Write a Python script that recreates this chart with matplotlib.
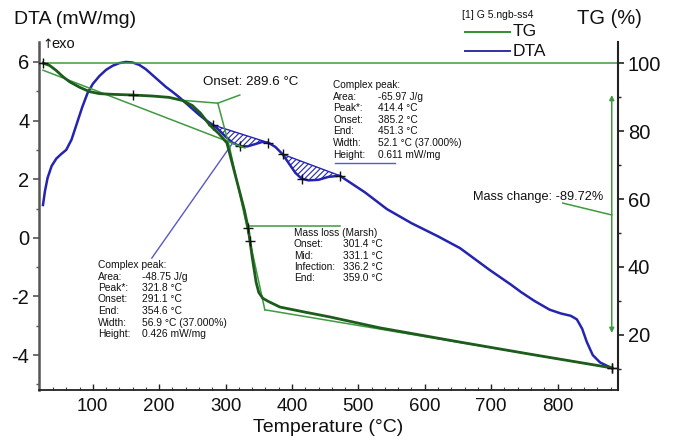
import numpy as np
import matplotlib
matplotlib.use("Agg")
import matplotlib.pyplot as plt
from matplotlib.lines import Line2D

plt.rcParams['font.family'] = ['Liberation Sans', 'DejaVu Sans']
plt.rcParams['hatch.linewidth'] = 0.8
plt.rcParams['axes.unicode_minus'] = False

# ---------------- data ----------------
dta_T = [25, 28, 32, 38, 45, 52, 60, 68, 76, 84, 92, 100, 110, 120, 130, 140, 150, 160,
         170, 180, 190, 200, 210, 220, 230, 240, 250, 260, 270, 281, 290, 300, 310, 321.8,
         333, 345, 355, 364, 375, 386, 395, 405, 414.4, 425, 440, 455, 472, 490, 510, 543,
         580, 620, 653, 698, 730, 745, 765, 788, 805, 820, 829, 837, 844, 853, 864, 874, 882]
dta_v = [1.12, 1.6, 2.05, 2.45, 2.7, 2.85, 3.0, 3.35, 3.9, 4.45, 4.93, 5.25, 5.52, 5.73, 5.87,
         5.96, 6.0, 5.98, 5.9, 5.75, 5.55, 5.35, 5.15, 4.98, 4.8, 4.6, 4.4, 4.2, 4.02, 3.85,
         3.68, 3.45, 3.25, 3.12, 3.12, 3.2, 3.27, 3.25, 3.1, 2.85, 2.55, 2.22, 2.02, 1.96,
         1.98, 2.08, 2.12, 1.85, 1.55, 0.98, 0.5, 0.05, -0.35, -1.1, -1.6, -1.85, -2.15,
         -2.45, -2.58, -2.66, -2.78, -3.1, -3.55, -4.0, -4.25, -4.36, -4.44]

tg_T = [25, 35, 45, 55, 65, 80, 95, 110, 130, 160, 190, 215, 235, 250, 262, 276, 290, 302,
        312, 320, 328, 334, 340, 346, 350, 356, 365, 382, 420, 457, 532, 653, 760, 882]
tg_p = [100, 99.3, 97.8, 96.0, 94.5, 92.9, 91.6, 91.0, 90.8, 90.6, 90.3, 89.9, 89.0, 87.5,
        85.3, 81.8, 79.2, 76.5, 69.0, 63.0, 57.0, 51.5, 43.0, 35.5, 32.5, 30.8, 29.8, 28.2,
        26.7, 25.3, 22.1, 17.9, 14.3, 10.3]

# peak integration limits (DTA) and baseline end values
peak1_T = [281, 364]
peak1_base = [3.85, 3.25]
peak2_T = [386, 472]
peak2_base = [2.85, 2.12]

# construction lines (TG axis, %)
tg_ref_T, tg_ref_p = [25, 889], [100, 100]
tg_base_T, tg_base_p = [25, 329], [97.9, 75.0]
onset_a_T, onset_a_p = [231, 288.3, 306.3], [89.1, 88.2, 75.0]
onset_b_T, onset_b_p = [288.3, 321.4], [88.2, 90.6]
steep_T, steep_p = [306.3, 359.1], [75.0, 27.4]
final_T, final_p = [359.1, 881.6], [27.4, 10.3]
massloss_lead_T, massloss_lead_p = [333.4, 472], [52.1, 52.1]
masschange_lead_T, masschange_lead_p = [807.8, 881.6], [58.8, 55.3]
arrow_T, arrow_p = 881.6, [90.6, 20.6]

# construction lines (DTA axis)
p1_lead_T, p1_lead_v = [188.9, 310.8], [-0.69, 3.24]
p2_lead_T, p2_lead_v = [464.5, 554.8], [2.55, 2.55]

# markers
tg_mark_T = [25, 160, 334, 336.5, 882]
tg_mark_p = [100, 90.6, 51.5, 47.5, 10.3]
dta_mark_T = [281, 321.8, 364, 386, 414.4, 472, 882]
dta_mark_v = [3.85, 3.12, 3.25, 2.85, 2.02, 2.12, -4.44]

# texts
peak_labels = ["Area:", "Peak*:", "Onset:", "End:", "Width:", "Height:"]
peak1_values = ["-48.75 J/g", "321.8 °C", "291.1 °C", "354.6 °C", "56.9 °C (37.000%)", "0.426 mW/mg"]
peak2_values = ["-65.97 J/g", "414.4 °C", "385.2 °C", "451.3 °C", "52.1 °C (37.000%)", "0.611 mW/mg"]
ml_labels = ["Onset:", "Mid:", "Infection:", "End:"]
ml_values = ["301.4 °C", "331.1 °C", "336.2 °C", "359.0 °C"]

xticks = [100, 200, 300, 400, 500, 600, 700, 800]
yticks_dta = [-4, -2, 0, 2, 4, 6]
yticks_tg = [20, 40, 60, 80, 100]

# ---------------- style ----------------
W, H = 673, 441
def fx(x): return x / W
def fy(y): return 1 - y / H

DARK_G = '#1d5c1d'
LIGHT_G = '#3f9a3f'
BLUE = '#2424b0'
THIN_B = '#5858c8'

fig = plt.figure(figsize=(W / 100, H / 100), dpi=100)
ax = fig.add_axes([fx(39), fy(390), (618 - 39) / W, (390 - 42) / H])
ax2 = ax.twinx()

ax.set_xlim(19, 891)
ax.set_ylim(-5.19, 6.68)
ax2.set_ylim(3.8, 106.2)

# TG construction lines
for tx, ty in [(tg_ref_T, tg_ref_p), (tg_base_T, tg_base_p), (onset_a_T, onset_a_p),
               (onset_b_T, onset_b_p), (steep_T, steep_p), (final_T, final_p),
               (massloss_lead_T, massloss_lead_p), (masschange_lead_T, masschange_lead_p)]:
    ax2.plot(tx, ty, color=LIGHT_G, lw=1.1, zorder=2)
ax2.annotate('', xy=(arrow_T, arrow_p[0]), xytext=(arrow_T, arrow_p[1]),
             arrowprops=dict(arrowstyle='<|-|>', color=LIGHT_G, lw=1.1,
                             mutation_scale=7, shrinkA=0, shrinkB=0))

# DTA construction
ax.plot(p1_lead_T, p1_lead_v, color=THIN_B, lw=1.0, zorder=2)
ax.plot(p2_lead_T, p2_lead_v, color=THIN_B, lw=1.0, zorder=2)
T_arr = np.array(dta_T)
v_arr = np.array(dta_v)
for pT, pb in [(peak1_T, peak1_base), (peak2_T, peak2_base)]:
    m = (T_arr >= pT[0]) & (T_arr <= pT[1])
    tt = T_arr[m]
    base = np.interp(tt, pT, pb)
    ax.fill_between(tt, v_arr[m], base, facecolor='none', edgecolor=BLUE,
                    hatch='//////', linewidth=0, zorder=2)
    ax.plot(pT, pb, color=BLUE, lw=1.0, zorder=2)

# main curves
ax.plot(dta_T, dta_v, color=BLUE, lw=1.8, zorder=3)
ax2.plot(tg_T, tg_p, color=DARK_G, lw=2.0, zorder=3)

ax.plot(dta_mark_T, dta_mark_v, '+', color='#111111', ms=7, mew=1.0, zorder=5)
ax2.plot(tg_mark_T, tg_mark_p, '+', color='#111111', ms=7, mew=1.0, zorder=5)

# spines / ticks
for a in (ax, ax2):
    a.spines['top'].set_visible(False)
ax.spines['right'].set_visible(False)
ax2.spines['left'].set_visible(False)
ax2.spines['bottom'].set_visible(False)
ax.spines['left'].set_color('#555555')
ax.spines['left'].set_linewidth(1.8)
ax.spines['bottom'].set_color('#222222')
ax.spines['bottom'].set_linewidth(1.3)
ax2.spines['right'].set_color('#222222')
ax2.spines['right'].set_linewidth(1.5)

ax.set_xticks(xticks)
ax.set_xticks(np.arange(40, 891, 20), minor=True)
ax.set_yticks(yticks_dta)
ax.set_yticks(np.arange(-5, 7, 1), minor=True)
ax2.set_yticks(yticks_tg)
ax2.set_yticks(np.arange(10, 101, 10), minor=True)

ax.tick_params(axis='x', which='major', direction='in', length=4, width=1.0,
               labelsize=13.5, pad=6, colors='#222222', labelcolor='#111111')
ax.tick_params(axis='x', which='minor', direction='in', length=2.5, width=0.8, colors='#444444')
ax.tick_params(axis='y', which='major', direction='out', length=4, width=1.2,
               labelsize=14.5, pad=3, colors='#555555', labelcolor='#111111')
ax.tick_params(axis='y', which='minor', direction='out', length=2.5, width=1.0, colors='#555555')
ax2.tick_params(axis='y', which='major', direction='out', length=4, width=1.2,
                labelsize=14.5, pad=3, colors='#222222', labelcolor='#111111')
ax2.tick_params(axis='y', which='minor', direction='out', length=2.5, width=1.0, colors='#222222')

ax.set_xlabel('Temperature (°C)', fontsize=14, labelpad=3, color='#111111')

# titles / legend
fig.text(fx(14), fy(19), 'DTA (mW/mg)', fontsize=14, va='center', ha='left', color='#111111')
fig.text(fx(577), fy(19), 'TG (%)', fontsize=14.5, va='center', ha='left', color='#111111')
fig.text(fx(462), fy(15), '[1] G 5.ngb-ss4', fontsize=7.5, va='center', ha='left', color='#111111')
fig.add_artist(Line2D([fx(465), fx(510)], [fy(32), fy(32)], color='#2f8f2f', lw=1.4))
fig.add_artist(Line2D([fx(465), fx(510)], [fy(51), fy(51)], color='#3030a8', lw=1.4))
fig.text(fx(513), fy(32), 'TG', fontsize=12.5, va='center', ha='left', color='#111111')
fig.text(fx(513), fy(51), 'DTA', fontsize=12.5, va='center', ha='left', color='#111111')
fig.text(fx(42), fy(44), '↑', fontsize=9, va='center', ha='left', color='#111111',
         family=['DejaVu Sans'])
fig.text(fx(51), fy(44), 'exo', fontsize=10.5, va='center', ha='left', color='#111111')

# annotations
fig.text(fx(203), fy(82), 'Onset: 289.6 °C', fontsize=9.6, va='center', ha='left', color='#111111')
fig.text(fx(473), fy(197), 'Mass change: -89.72%', fontsize=9.2, va='center', ha='left', color='#111111')

def block(x_lab, x_val, y0, dy, header, labels, values, fs):
    y = y0
    if header:
        fig.text(fx(x_lab), fy(y), header, fontsize=fs, va='center', ha='left', color='#111111')
        y += dy
    for lab, val in zip(labels, values):
        fig.text(fx(x_lab), fy(y), lab, fontsize=fs, va='center', ha='left', color='#111111')
        fig.text(fx(x_val), fy(y), val, fontsize=fs, va='center', ha='left', color='#111111')
        y += dy

block(333, 378, 85, 11.6, 'Complex peak:', peak_labels, peak2_values, 7.3)
block(98, 142, 265, 11.5, 'Complex peak:', peak_labels, peak1_values, 7.4)
block(294, 343, 233, 11.3, 'Mass loss (Marsh)', ml_labels, ml_values, 7.3)

fig.savefig('out.png', dpi=100)
